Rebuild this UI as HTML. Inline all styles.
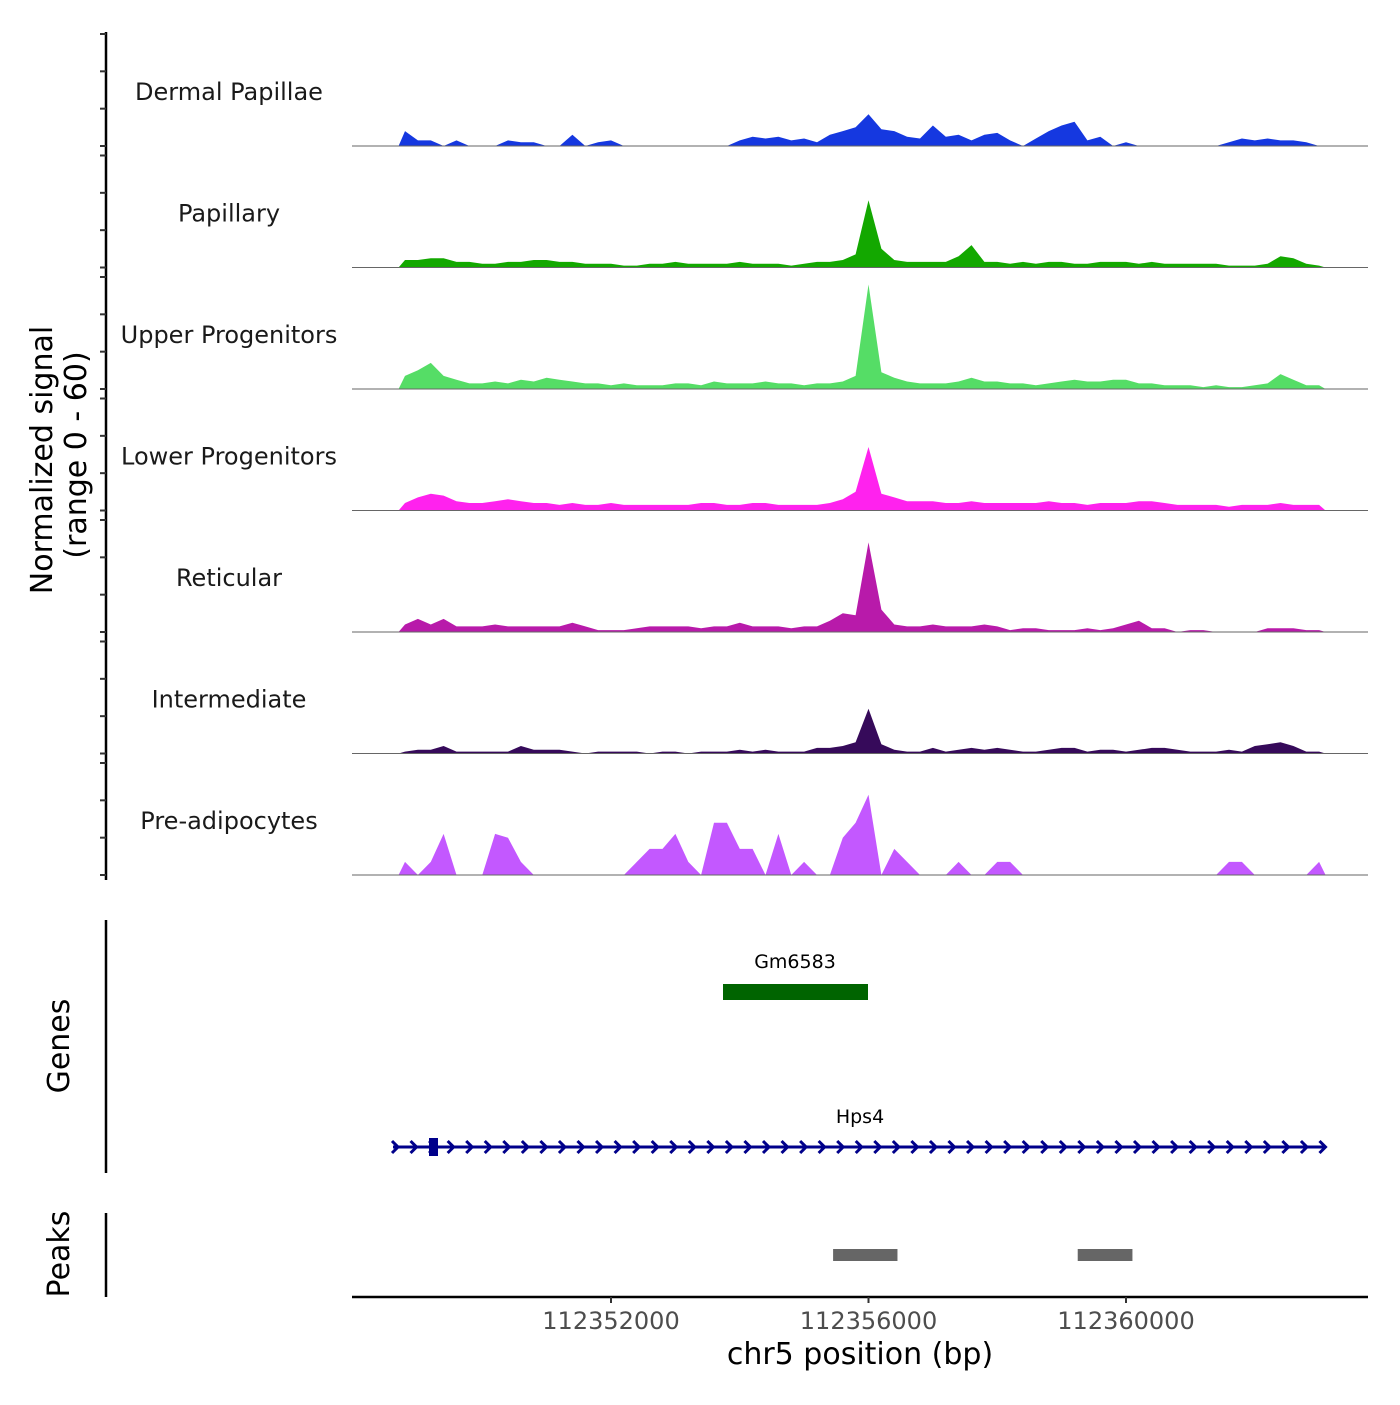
<!DOCTYPE html>
<html><head><meta charset="utf-8"><style>
body{margin:0;background:#fff;}
svg text{font-family:"DejaVu Sans","Liberation Sans",sans-serif;}
</style></head><body>
<svg id="chart" width="1400" height="1400" viewBox="0 0 1400 1400" xmlns="http://www.w3.org/2000/svg">
<g id="tracks"></g>
<g id="yaxis"></g>
<text transform="translate(52,460) rotate(-90)" text-anchor="middle" font-size="30" fill="#000">Normalized signal</text>
<text transform="translate(86,455) rotate(-90)" text-anchor="middle" font-size="30" fill="#000">(range 0 - 60)</text>
<g id="genes">
<line x1="106" y1="920" x2="106" y2="1173" stroke="#000" stroke-width="2.5"/>
<text transform="translate(69,1046) rotate(-90)" text-anchor="middle" font-size="30">Genes</text>
<text x="795" y="968" text-anchor="middle" font-size="19">Gm6583</text>
<rect x="723" y="984" width="145" height="16" fill="#006400"/>
<text x="860" y="1123" text-anchor="middle" font-size="19">Hps4</text>
<line x1="393" y1="1147" x2="1325" y2="1147" stroke="#00008B" stroke-width="3"/>
<g id="chev"></g>
<rect x="429" y="1138" width="9" height="18" fill="#00008B"/>
</g>
<g id="peaks">
<line x1="106" y1="1213" x2="106" y2="1297" stroke="#000" stroke-width="2.5"/>
<text transform="translate(69,1254) rotate(-90)" text-anchor="middle" font-size="30">Peaks</text>
</g>
<g id="xaxis">
<line x1="352" y1="1297" x2="1368" y2="1297" stroke="#000" stroke-width="2.5"/>
</g>
<text x="860" y="1364" text-anchor="middle" font-size="30">chr5 position (bp)</text>
</svg>
<script>
const trackNames=["Dermal Papillae","Papillary","Upper Progenitors","Lower Progenitors","Reticular","Intermediate","Pre-adipocytes"];
const trackColors=["#1538e0","#13a800","#55dd66","#ff22ee","#b81aaa","#360a5a","#c358ff"];
const binStart=112348700;
const binWidth=200;
const dermalPapillae=[8,3,3,0,3,0,0,0,3,2,2,0,0,6,0,2,3,0,0,0,0,0,0,0,0,0,3,5,4,5,3,4,2,6,8,10,17,9,8,5,4,11,5,6,3,6,7,3,0,4,8,11,13,3,5,0,2,0,0,0,0,0,0,0,2,4,3,4,3,3,2,0];
const papillary=[4,4,5,5,3,3,2,2,3,3,4,4,3,3,2,2,2,1,1,2,2,3,2,2,2,2,3,2,2,2,1,2,3,3,4,7,36,10,4,3,3,3,3,6,12,3,3,2,3,2,3,3,2,2,3,3,3,2,3,2,2,2,2,2,1,1,1,2,6,5,2,1];
const upperProgenitors=[7,10,14,7,5,3,3,4,3,5,4,6,5,4,3,3,2,3,2,2,2,3,3,2,4,3,3,3,4,3,3,2,3,3,4,7,56,9,6,4,3,3,3,4,6,4,4,3,3,2,3,4,5,4,4,5,5,3,3,2,2,2,1,2,1,1,2,3,8,5,2,2];
const lowerProgenitors=[4,7,9,8,5,4,4,5,6,5,4,4,3,4,3,3,4,3,3,3,3,3,3,4,4,3,3,4,4,3,3,3,3,4,6,10,34,9,7,5,5,5,4,4,5,4,4,4,4,4,5,4,4,3,4,4,4,5,5,4,3,3,3,3,2,3,3,3,4,3,3,3];
const reticular=[4,7,4,7,3,3,3,4,3,3,3,3,3,5,3,1,1,1,2,3,3,3,3,2,3,3,5,3,3,3,2,3,3,6,10,9,48,12,4,3,3,4,3,3,3,4,3,1,2,2,1,1,1,2,1,2,4,6,2,2,0,1,1,0,0,0,0,2,2,2,1,1];
const intermediate=[1,2,2,4,1,1,1,1,1,4,2,2,2,1,0,1,1,1,1,0,1,1,0,1,1,1,2,1,2,1,1,1,3,3,4,6,24,5,2,1,1,3,1,2,3,2,3,2,1,1,2,3,3,1,2,2,1,2,3,3,2,1,1,1,2,1,4,5,6,4,1,1];
const preAdipocytes=[7,0,7,22,0,0,0,22,20,7,0,0,0,0,0,0,0,0,7,14,14,22,7,0,28,28,14,14,0,22,0,7,0,0,20,28,43,0,14,7,0,0,0,7,0,0,7,7,0,0,0,0,0,0,0,0,0,0,0,0,0,0,0,0,7,7,0,0,0,0,0,7];
const xTicks=[112352000,112356000,112360000];
const peakStarts=[112355450,112359250];
const peakEnds=[112356450,112360100];
const series=[dermalPapillae,papillary,upperProgenitors,lowerProgenitors,reticular,intermediate,preAdipocytes];

const NS="http://www.w3.org/2000/svg";
function xs(bp){return 611+(bp-112352000)*0.064375;}
const baselines=[146,267.5,389,510.5,632,753.5,875];
const pxPerUnit=112/60;
function ys(v,k){return baselines[k]-v*pxPerUnit;}
const tg=document.getElementById('tracks');
series.forEach((vals,k)=>{
  let pts=[];
  const x0=xs(binStart);
  pts.push(x0+","+baselines[k]);
  vals.forEach((v,i)=>{pts.push(xs(binStart+binWidth*(i+0.5)).toFixed(1)+","+ys(v,k).toFixed(1));});
  pts.push(xs(binStart+binWidth*vals.length)+","+baselines[k]);
  const p=document.createElementNS(NS,'polygon');
  
  
  p.setAttribute('points',pts.join(' '));
  p.setAttribute('fill',trackColors[k]);
  tg.appendChild(p);
  const l=document.createElementNS(NS,'line');
  
  
  l.setAttribute('x1',352);l.setAttribute('x2',1368);
  l.setAttribute('y1',baselines[k]);l.setAttribute('y2',baselines[k]);
  l.setAttribute('stroke','#666');l.setAttribute('stroke-width','1');
  tg.appendChild(l);
  const t=document.createElementNS(NS,'text');
  
  
  t.setAttribute('x',229);t.setAttribute('y',baselines[k]-46);
  t.setAttribute('text-anchor','middle');t.setAttribute('font-size','24');t.setAttribute('fill','#1a1a1a');
  t.textContent=trackNames[k];
  tg.appendChild(t);
});
const ya=document.getElementById('yaxis');
const al=document.createElementNS(NS,'line');


al.setAttribute('x1',106);al.setAttribute('x2',106);al.setAttribute('y1',32);al.setAttribute('y2',880);
al.setAttribute('stroke','#000');al.setAttribute('stroke-width','2.5');
ya.appendChild(al);
baselines.forEach(b=>{[0,20,40,60].forEach(v=>{
  const y=b-v*pxPerUnit;
  const tk=document.createElementNS(NS,'line');
  
  
  tk.setAttribute('x1',100);tk.setAttribute('x2',106);tk.setAttribute('y1',y);tk.setAttribute('y2',y);
  tk.setAttribute('stroke','#333');tk.setAttribute('stroke-width','2');
  ya.appendChild(tk);
});});
const ch=document.getElementById('chev');
for(let x=396;x<=1325;x+=18.55){
  const c=document.createElementNS(NS,'polyline');
  
  
  c.setAttribute('points',(x-4)+",1141 "+(x+2)+",1147 "+(x-4)+",1153");
  c.setAttribute('fill','none');c.setAttribute('stroke','#00008B');c.setAttribute('stroke-width','3');
  ch.appendChild(c);
}
const pg=document.getElementById('peaks');
peakStarts.forEach((s,i)=>{
  const r=document.createElementNS(NS,'rect');
  
  
  r.setAttribute('x',xs(s));r.setAttribute('width',xs(peakEnds[i])-xs(s));
  r.setAttribute('y',1249);r.setAttribute('height',12);r.setAttribute('fill','#666');
  pg.appendChild(r);
});
const xa=document.getElementById('xaxis');
xTicks.forEach(v=>{
  const tk=document.createElementNS(NS,'line');
  
  
  tk.setAttribute('x1',xs(v));tk.setAttribute('x2',xs(v));tk.setAttribute('y1',1297);tk.setAttribute('y2',1303);
  tk.setAttribute('stroke','#333');tk.setAttribute('stroke-width','2');
  xa.appendChild(tk);
  const t=document.createElementNS(NS,'text');
  
  
  t.setAttribute('x',xs(v));t.setAttribute('y',1329);t.setAttribute('text-anchor','middle');
  t.setAttribute('font-size','24');t.setAttribute('fill','#4d4d4d');
  t.textContent=v;
  xa.appendChild(t);
});
</script>
</body></html>
